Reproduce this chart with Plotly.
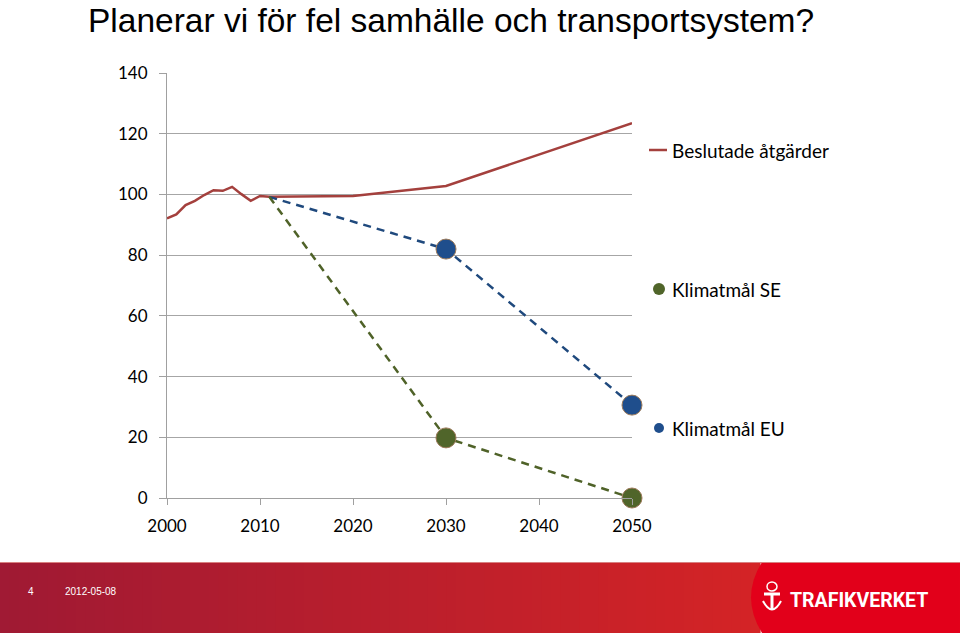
import plotly.graph_objects as go

# ---- data ----
years_red = [2000, 2001, 2002, 2003, 2004, 2005, 2006, 2007, 2008, 2009, 2010, 2011, 2020, 2030, 2050]
vals_red = [92.1, 93.4, 96.5, 97.9, 99.8, 101.4, 101.2, 102.5, 100.1, 97.9, 99.5, 99.2, 99.5, 102.8, 123.5]

years_eu = [2011, 2030, 2050]
vals_eu = [99.2, 82.0, 30.6]

years_se = [2011, 2030, 2050]
vals_se = [99.2, 19.8, 0.0]

x_ticks = [2000, 2010, 2020, 2030, 2040, 2050]
y_ticks = [0, 20, 40, 60, 80, 100, 120, 140]

series_names = ["Beslutade åtgärder", "Klimatmål SE", "Klimatmål EU"]
title_text = "Planerar vi för fel samhälle och transportsystem?"
footer_page = "4"
footer_date = "2012-05-08"
footer_brand = "TRAFIKVERKET"

# ---- layout geometry (pixels) ----
W, H = 960, 633
L, R, T, B = 167, 632, 73, 498


def px(p):
    return (p - L) / (R - L)


def py(p):
    return (B - p) / (B - T)


RED = "#A4403D"
BLUE_LINE = "#1F497D"
BLUE_FILL = "#1F4E8C"
GREEN = "#4F6228"
GREEN_FILL = "#50652A"
OUTLINE = "#9C7A5A"

fig = go.Figure()

fig.add_trace(go.Scatter(
    x=years_red, y=vals_red, mode="lines",
    line=dict(color=RED, width=2.5), showlegend=False, cliponaxis=False,
))
fig.add_trace(go.Scatter(
    x=years_eu, y=vals_eu, mode="lines",
    line=dict(color=BLUE_LINE, width=2.5, dash="8px,6px"),
    showlegend=False, cliponaxis=False,
))
fig.add_trace(go.Scatter(
    x=years_se, y=vals_se, mode="lines",
    line=dict(color=GREEN, width=2.5, dash="8px,6px"),
    showlegend=False, cliponaxis=False,
))
fig.add_trace(go.Scatter(
    x=years_eu[1:], y=vals_eu[1:], mode="markers",
    marker=dict(size=20, color=BLUE_FILL, opacity=1, line=dict(color=OUTLINE, width=1)),
    showlegend=False, cliponaxis=False,
))
fig.add_trace(go.Scatter(
    x=years_se[1:], y=vals_se[1:], mode="markers",
    marker=dict(size=20, color=GREEN_FILL, opacity=1, line=dict(color=OUTLINE, width=1)),
    showlegend=False, cliponaxis=False,
))

shapes = []
# footer banner gradient
n = 80
x0, x1 = 0, 760
c0 = (160, 26, 52)
c1 = (212, 36, 38)
for i in range(n):
    a = x0 + (x1 - x0) * i / n
    b = x0 + (x1 - x0) * (i + 1) / n + 0.6
    t = i / (n - 1)
    c = tuple(int(c0[k] + (c1[k] - c0[k]) * t) for k in range(3))
    shapes.append(dict(type="rect", xref="paper", yref="paper",
                       x0=px(a), x1=px(b), y0=py(633), y1=py(562),
                       fillcolor="rgb(%d,%d,%d)" % c, line=dict(width=0), layer="below"))
# bright red right part with curved edge
path = "M %f,%f Q %f,%f %f,%f L %f,%f L %f,%f Z" % (
    px(762), py(562), px(740), py(597.5), px(762), py(633), px(960), py(633), px(960), py(562))
shapes.append(dict(type="path", xref="paper", yref="paper", path=path,
                   fillcolor="#E2001A", line=dict(width=0), layer="below"))
# thin light top line on banner
shapes.append(dict(type="line", xref="paper", yref="paper", x0=px(0), x1=px(960),
                   y0=py(562.5), y1=py(562.5), line=dict(color="#D88080", width=1), layer="below"))

# emblem (simple T with arc)
shapes.append(dict(type="path", xref="paper", yref="paper",
                   path="M %f,%f L %f,%f M %f,%f L %f,%f" % (
                       px(764), py(594), px(780), py(594), px(772), py(594), px(772), py(610)),
                   line=dict(color="white", width=3)))
shapes.append(dict(type="path", xref="paper", yref="paper",
                   path="M %f,%f Q %f,%f %f,%f" % (
                       px(763), py(601), px(772), py(618), px(781), py(601)),
                   line=dict(color="white", width=2)))
shapes.append(dict(type="circle", xref="paper", yref="paper",
                   x0=px(767), x1=px(777), y0=py(582), y1=py(591),
                   fillcolor="rgba(0,0,0,0)", line=dict(color="white", width=1.5)))

# legend symbols
shapes.append(dict(type="line", xref="paper", yref="paper",
                   x0=px(649), x1=px(667), y0=py(150), y1=py(150),
                   line=dict(color=RED, width=2.5)))
shapes.append(dict(type="circle", xref="paper", yref="paper",
                   x0=px(653), x1=px(665), y0=py(283), y1=py(295),
                   fillcolor=GREEN_FILL, line=dict(width=0)))
shapes.append(dict(type="circle", xref="paper", yref="paper",
                   x0=px(654), x1=px(664), y0=py(423), y1=py(433),
                   fillcolor=BLUE_FILL, line=dict(width=0)))

annotations = []
legend_y = [150, 289, 428]
for name, yy in zip(series_names, legend_y):
    annotations.append(dict(text=name, xref="paper", yref="paper", x=px(670), y=py(yy),
                            xanchor="left", yanchor="middle", showarrow=False,
                            font=dict(family="Lato, Open Sans, sans-serif", size=19, color="#000")))

annotations.append(dict(text=title_text, xref="paper", yref="paper", x=px(86), y=py(0),
                        xanchor="left", yanchor="top", showarrow=False,
                        font=dict(family="Liberation Sans, Arial, sans-serif", size=33.5, color="#000")))

annotations.append(dict(text=footer_page, xref="paper", yref="paper", x=px(26), y=py(591),
                        xanchor="left", yanchor="middle", showarrow=False,
                        font=dict(family="Liberation Sans, Arial", size=10, color="white")))
annotations.append(dict(text=footer_date, xref="paper", yref="paper", x=px(63), y=py(591),
                        xanchor="left", yanchor="middle", showarrow=False,
                        font=dict(family="Liberation Sans Narrow, Liberation Sans, Arial", size=10, color="white")))
annotations.append(dict(text="<b>" + footer_brand + "</b>", xref="paper", yref="paper", x=px(788), y=py(600),
                        xanchor="left", yanchor="middle", showarrow=False,
                        font=dict(family="Liberation Sans Narrow, Roboto, Arial", size=19.5, color="white")))

fig.update_layout(
    width=W, height=H,
    margin=dict(l=L, r=W - R, t=T, b=H - B, pad=0),
    paper_bgcolor="white", plot_bgcolor="white",
    showlegend=False,
    shapes=shapes,
    annotations=annotations,
    xaxis=dict(
        range=[2000, 2050], tickvals=x_ticks, ticktext=[str(v) for v in x_ticks],
        showgrid=False, zeroline=False, showline=True, linecolor="#A0A0A0", linewidth=1,
        ticks="outside", ticklen=6, tickcolor="#A0A0A0",
        tickfont=dict(family="Lato, Open Sans, sans-serif", size=17, color="#000"),
        ticklabelstandoff=7,
    ),
    yaxis=dict(
        range=[0, 140], tickvals=y_ticks, ticktext=[str(v) for v in y_ticks],
        showgrid=True, gridcolor="#A6A6A6", gridwidth=1,
        zeroline=False, showline=True, linecolor="#A0A0A0", linewidth=1,
        ticks="outside", ticklen=7, tickcolor="#A0A0A0",
        tickfont=dict(family="Lato, Open Sans, sans-serif", size=17, color="#000"),
        ticklabelstandoff=8,
    ),
)

fig.write_html("out.html", config={"displayModeBar": False},
               post_script="document.body.style.margin='0';document.body.style.overflow='hidden';")
